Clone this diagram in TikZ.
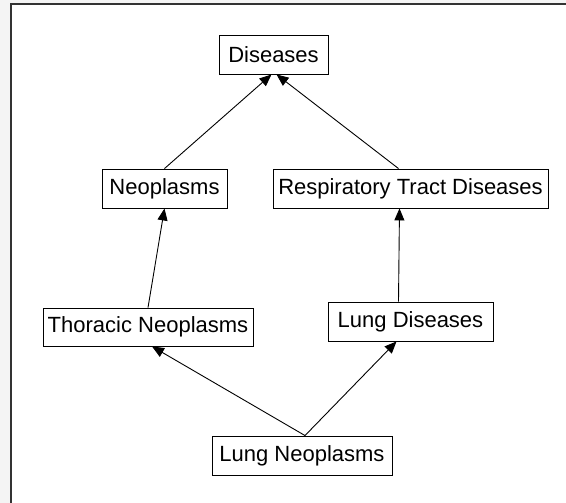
\documentclass[tikz,border=0pt]{standalone}
\usepackage{fontspec}
\setmainfont{Liberation Sans}
\usetikzlibrary{arrows.meta}
\definecolor{bggray}{HTML}{F4F4F4}
\definecolor{framegray}{HTML}{333333}
\begin{document}
\begin{tikzpicture}[x=1pt,y=-1pt,
  box/.style={draw=black, line width=0.9pt, fill=white, inner sep=0pt,
    font=\fontsize{22}{25}\selectfont},
  link/.style={draw=black, line width=0.9pt, -{Triangle[length=12pt,width=10pt]}}]
\useasboundingbox (0,0) rectangle (566,503);
\fill[bggray] (0,0) rectangle (566,503);
\fill[white] (11,4) rectangle (566,503);
\draw[framegray, line width=1.4pt] (11,503) -- (11,4) -- (566,4);
\node[box, minimum width=109pt, minimum height=39pt] (D) at (273.5,54.5) {Diseases};
\node[box, minimum width=125pt, minimum height=39pt] (N) at (164.5,188.5) {Neoplasms};
\node[box, minimum width=275pt, minimum height=39pt] (R) at (410.5,188.5) {Respiratory Tract Diseases};
\node[box, minimum width=210pt, minimum height=38pt] (T) at (148,327) {Thoracic Neoplasms};
\node[box, minimum width=165pt, minimum height=39pt] (L) at (410.5,321.5) {Lung Diseases};
\node[box, minimum width=180pt, minimum height=39pt] (LN) at (302,455.5) {Lung Neoplasms};
\draw[link] (N.north) -- ([xshift=-2pt]D.south);
\draw[link] ([xshift=-12pt]R.north) -- ([xshift=3pt]D.south);
\draw[link] (T.north) -- (N.south);
\draw[link] ([xshift=-12pt]L.north) -- ([xshift=-11pt]R.south);
\draw[link] ([xshift=3pt]LN.north) -- ([xshift=4pt]T.south);
\draw[link] ([xshift=3pt]LN.north) -- ([xshift=-14pt]L.south);
\end{tikzpicture}
\end{document}
